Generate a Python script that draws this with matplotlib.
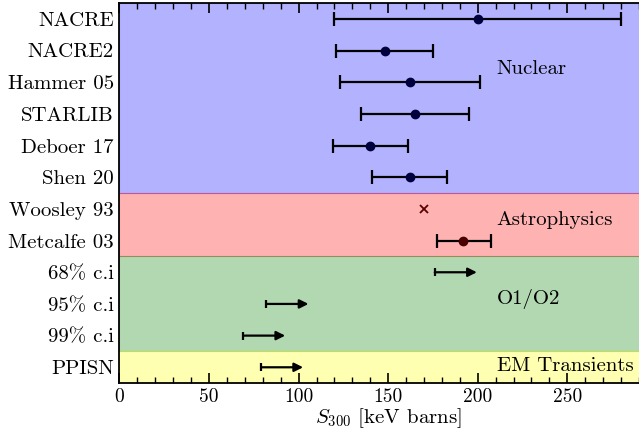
import numpy as np
import matplotlib
matplotlib.use('Agg')
import matplotlib.pyplot as plt

plt.rcParams['font.family'] = ['cmr10', 'DejaVu Serif']
plt.rcParams['mathtext.fontset'] = 'cm'
plt.rcParams['axes.unicode_minus'] = False

labels = ['NACRE', 'NACRE2', 'Hammer 05', 'STARLIB', 'Deboer 17', 'Shen 20',
          'Woosley 93', 'Metcalfe 03', '68% c.i', '95% c.i', '99% c.i', 'PPISN']

# nuclear measurements: central value, lower and upper edge
nuc_val = [200, 148, 162, 165, 140, 162]
nuc_lo = [120, 121, 123, 135, 119, 141]
nuc_hi = [280, 175, 201, 195, 161, 183]

# astrophysics
woosley_val = 170
metcalfe_val = 192
metcalfe_lo = 177.5
metcalfe_hi = 207.5

# lower limits (O1/O2 and EM transients)
lim_lo = [176, 82, 69, 79]
arrow_len = 23.5

groups = ['Nuclear', 'Astrophysics', 'O1/O2', 'EM Transients']
group_rows = [(0, 6), (6, 8), (8, 11), (11, 12)]
group_cols = ['blue', 'red', 'green', 'yellow']
group_text_y = [1.6, 6.35, 8.85, 10.95]

fig = plt.figure(figsize=(6.39, 4.30), dpi=100)
ax = fig.add_axes([0.187, 0.109, 0.841, 0.884])

for (r0, r1), c in zip(group_rows, group_cols):
    ax.axhspan(r0 - 0.5, r1 - 0.5, color=c, alpha=0.3, lw=0.8, zorder=0)

for name, ty in zip(groups, group_text_y):
    ax.text(210.5, ty, name, fontsize=15, va='center', ha='left')

ypos = np.arange(len(labels))

# nuclear
nv = np.array(nuc_val)
xerr = [nv - np.array(nuc_lo), np.array(nuc_hi) - nv]
ax.errorbar(nv, ypos[:6], xerr=xerr, fmt='o', color='#00003c', ms=6,
            ecolor='k', elinewidth=1.6, capsize=5, capthick=1.6, zorder=3)

# astrophysics
ax.plot(woosley_val, ypos[6], 'x', color='#5a0000', ms=5.5, mew=1.3, zorder=3)
ax.errorbar(metcalfe_val, ypos[7],
            xerr=[[metcalfe_val - metcalfe_lo], [metcalfe_hi - metcalfe_val]],
            fmt='o', color='#4a0000', ms=6, ecolor='k', elinewidth=1.6,
            capsize=5, capthick=1.6, zorder=3)

# lower limits
for lo, y in zip(lim_lo, ypos[8:]):
    ax.plot(lo, y, marker='|', color='k', ms=6, mew=1.6, zorder=3)
    ax.annotate('', xy=(lo + arrow_len, y), xytext=(lo, y),
                arrowprops=dict(arrowstyle='-|>', color='k', lw=1.6,
                                mutation_scale=13, shrinkA=0, shrinkB=0),
                zorder=3)

ax.set_yticks(ypos)
ax.set_yticklabels(labels, fontsize=15)
ax.set_ylim(len(labels) - 0.5, -0.5)
ax.set_xlim(0, 300)
ax.set_xticks([0, 50, 100, 150, 200, 250])
ax.set_xticks(np.arange(0, 301, 10), minor=True)
ax.tick_params(axis='x', which='both', direction='in', top=True, labelsize=14)
ax.tick_params(axis='x', which='major', length=7, width=1.2)
ax.tick_params(axis='x', which='minor', length=4, width=1.0)
ax.tick_params(axis='y', length=0, pad=4)
ax.set_xlabel(r'$S_{300}$ [keV barns]', fontsize=15, labelpad=0)
for s in ax.spines.values():
    s.set_linewidth(1.3)

fig.savefig('out.png', dpi=100)
